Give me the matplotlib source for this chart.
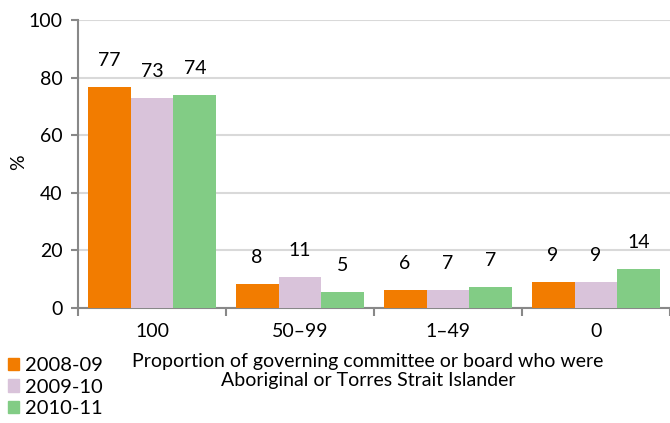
import matplotlib.pyplot as plt
from matplotlib.patches import Patch

plt.rcParams['font.family'] = ['Lato', 'DejaVu Sans']

categories = ['100', '50–99', '1–49', '0']
years = ['2008-09', '2009-10', '2010-11']
values = {
    '2008-09': [77, 8, 6, 9],
    '2009-10': [73, 11, 7, 9],
    '2010-11': [74, 5, 7, 14],
}
# bar heights differ slightly from the rounded labels in the original
heights = {
    '2008-09': [76.6, 8.2, 6.2, 9.0],
    '2009-10': [72.9, 10.8, 6.2, 8.9],
    '2010-11': [73.8, 5.4, 7.2, 13.6],
}
colors = ['#F27C00', '#D9C3DA', '#82CC85']

fig = plt.figure(figsize=(6.7, 4.23), dpi=100)
ax = fig.add_axes([0.1164, 0.2719, 0.8836, 0.6808])

w = 0.29
for k, yr in enumerate(years):
    xs = [i + 0.5 + (k - 1) * w for i in range(len(categories))]
    ax.bar(xs, heights[yr], width=w, color=colors[k], zorder=3)
    for x, h, v in zip(xs, heights[yr], values[yr]):
        ax.annotate(str(v), (x, h), xytext=(0, 13), textcoords='offset points',
                    ha='center', va='bottom', fontsize=14)

ax.set_xlim(0, 4)
ax.set_ylim(0, 100)
ax.set_yticks(range(0, 101, 20))
ax.tick_params(axis='y', labelsize=14, length=5, width=1.5, color='#888888', pad=6)
ax.set_xticks(range(5))
ax.set_xticklabels([])
ax.set_xticks([i + 0.5 for i in range(4)], minor=True)
ax.set_xticklabels(categories, minor=True, fontsize=14)
ax.tick_params(axis='x', which='major', length=6, width=1.5, color='#888888')
ax.tick_params(axis='x', which='minor', length=0, pad=11)
ax.yaxis.grid(True, color='#D9D9D9', linewidth=1.5, zorder=0)

for s in ['top', 'right']:
    ax.spines[s].set_visible(False)
for s in ['left', 'bottom']:
    ax.spines[s].set_color('#888888')
    ax.spines[s].set_linewidth(1.5)

fig.text(19 / 670, 1 - 162 / 423, '%', rotation=90, ha='center', va='center', fontsize=14)
fig.text(368 / 670, 1 - 371 / 423, 'Proportion of governing committee or board who were\nAboriginal or Torres Strait Islander',
         ha='center', va='center', fontsize=14, linespacing=1.2)

handles = [Patch(color=c) for c in colors]
fig.legend(handles, years, loc='upper left', bbox_to_anchor=(0.012, 1 - 357 / 423), frameon=False,
           fontsize=14.5, handlelength=0.55, handleheight=0.55, handletextpad=0.3,
           labelspacing=0.23, borderaxespad=0.0, borderpad=0.0)

plt.savefig('out.png', dpi=100)
